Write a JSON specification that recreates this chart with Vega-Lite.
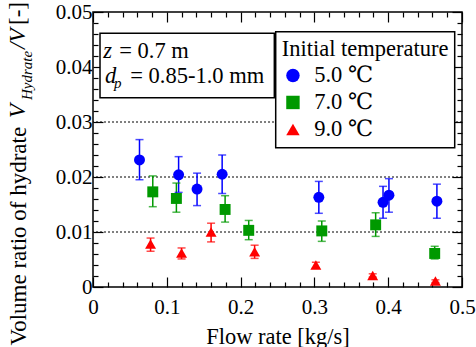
{
  "$schema": "https://vega.github.io/schema/vega-lite/v6.json",
  "width": 369,
  "height": 275,
  "autosize": {"type": "none"},
  "padding": {"left": 93, "top": 12, "right": 14, "bottom": 60},
  "background": "white",
  "datasets": {
    "pts": [
      {"series": "5.0 ℃", "x": 0.063, "y": 0.0231, "lo": 0.0195, "hi": 0.0268},
      {"series": "5.0 ℃", "x": 0.116, "y": 0.0204, "lo": 0.0172, "hi": 0.0237},
      {"series": "5.0 ℃", "x": 0.141, "y": 0.0178, "lo": 0.0148, "hi": 0.0207},
      {"series": "5.0 ℃", "x": 0.175, "y": 0.0205, "lo": 0.0170, "hi": 0.0240},
      {"series": "5.0 ℃", "x": 0.306, "y": 0.0163, "lo": 0.0134, "hi": 0.0192},
      {"series": "5.0 ℃", "x": 0.393, "y": 0.0154, "lo": 0.0125, "hi": 0.0183},
      {"series": "5.0 ℃", "x": 0.401, "y": 0.0167, "lo": 0.0136, "hi": 0.0197},
      {"series": "5.0 ℃", "x": 0.466, "y": 0.0156, "lo": 0.0125, "hi": 0.0187},
      {"series": "7.0 ℃", "x": 0.081, "y": 0.0173, "lo": 0.0146, "hi": 0.0202},
      {"series": "7.0 ℃", "x": 0.113, "y": 0.0161, "lo": 0.0136, "hi": 0.0189},
      {"series": "7.0 ℃", "x": 0.179, "y": 0.0141, "lo": 0.0118, "hi": 0.0166},
      {"series": "7.0 ℃", "x": 0.211, "y": 0.0103, "lo": 0.0086, "hi": 0.0121},
      {"series": "7.0 ℃", "x": 0.310, "y": 0.0102, "lo": 0.0083, "hi": 0.0120},
      {"series": "7.0 ℃", "x": 0.383, "y": 0.0113, "lo": 0.0092, "hi": 0.0135},
      {"series": "7.0 ℃", "x": 0.463, "y": 0.0061, "lo": 0.0051, "hi": 0.0074},
      {"series": "9.0 ℃", "x": 0.078, "y": 0.0078, "lo": 0.0065, "hi": 0.0089},
      {"series": "9.0 ℃", "x": 0.120, "y": 0.0062, "lo": 0.0051, "hi": 0.0071},
      {"series": "9.0 ℃", "x": 0.160, "y": 0.0100, "lo": 0.0082, "hi": 0.0116},
      {"series": "9.0 ℃", "x": 0.219, "y": 0.0064, "lo": 0.0052, "hi": 0.0076},
      {"series": "9.0 ℃", "x": 0.302, "y": 0.0040, "lo": 0.0035, "hi": 0.0045},
      {"series": "9.0 ℃", "x": 0.379, "y": 0.0021, "lo": 0.0018, "hi": 0.0024},
      {"series": "9.0 ℃", "x": 0.464, "y": 0.0011, "lo": 0.0008, "hi": 0.0013}
    ],
    "grid": [{"g": 0.01}, {"g": 0.02}, {"g": 0.03}],
    "one": [{}]
  },
  "resolve": {"axis": {"x": "independent", "y": "independent"}},
  "layer": [
    {
      "data": {"name": "grid"},
      "mark": {"type": "rule", "color": "black", "strokeWidth": 1, "strokeDash": [2, 2]},
      "encoding": {
        "y": {"field": "g", "type": "quantitative", "scale": {"domain": [0, 0.05], "nice": false, "zero": false}, "axis": null}
      }
    },
    {
      "data": {"name": "one"},
      "mark": {"type": "rect", "fill": "white", "stroke": "black", "strokeWidth": 1.5},
      "encoding": {
        "x": {"datum": 0.0095, "type": "quantitative", "axis": null},
        "x2": {"datum": 0.2457},
        "y": {"datum": 0.04613, "type": "quantitative", "axis": null},
        "y2": {"datum": 0.03442}
      }
    },
    {
      "data": {"name": "one"},
      "mark": {"type": "text", "text": "z", "font": "Liberation Serif", "fontStyle": "italic", "fontSize": 22.5, "align": "left", "baseline": "alphabetic", "color": "black"},
      "encoding": {
        "x": {"datum": 0.01396, "type": "quantitative", "axis": null},
        "y": {"datum": 0.04169, "type": "quantitative", "axis": null}
      }
    },
    {
      "data": {"name": "one"},
      "mark": {"type": "text", "text": "= 0.7 m", "font": "Liberation Serif", "fontSize": 22.5, "align": "left", "baseline": "alphabetic", "color": "black"},
      "encoding": {
        "x": {"datum": 0.03564, "type": "quantitative", "axis": null},
        "y": {"datum": 0.04169, "type": "quantitative", "axis": null}
      }
    },
    {
      "data": {"name": "one"},
      "mark": {"type": "text", "text": "d", "font": "Liberation Serif", "fontStyle": "italic", "fontSize": 22.5, "align": "left", "baseline": "alphabetic", "color": "black"},
      "encoding": {
        "x": {"datum": 0.01626, "type": "quantitative", "axis": null},
        "y": {"datum": 0.03704, "type": "quantitative", "axis": null}
      }
    },
    {
      "data": {"name": "one"},
      "mark": {"type": "text", "text": "p", "font": "Liberation Serif", "fontStyle": "italic", "fontSize": 15, "align": "left", "baseline": "alphabetic", "color": "black"},
      "encoding": {
        "x": {"datum": 0.0285, "type": "quantitative", "axis": null},
        "y": {"datum": 0.0361, "type": "quantitative", "axis": null}
      }
    },
    {
      "data": {"name": "one"},
      "mark": {"type": "text", "text": "= 0.85-1.0 mm", "font": "Liberation Serif", "fontSize": 22.5, "align": "left", "baseline": "alphabetic", "color": "black"},
      "encoding": {
        "x": {"datum": 0.0505, "type": "quantitative", "axis": null},
        "y": {"datum": 0.03704, "type": "quantitative", "axis": null}
      }
    },
    {
      "data": {"name": "one"},
      "mark": {"type": "text", "text": "V", "font": "Liberation Serif", "fontStyle": "italic", "fontSize": 23, "angle": 270, "align": "left", "baseline": "alphabetic", "color": "black"},
      "encoding": {
        "x": {"datum": -0.09214, "type": "quantitative", "axis": null},
        "y": {"datum": 0.030727, "type": "quantitative", "axis": null}
      }
    },
    {
      "data": {"name": "one"},
      "mark": {"type": "text", "text": "Hydrate", "font": "Liberation Serif", "fontStyle": "italic", "fontSize": 15, "angle": 270, "align": "left", "baseline": "alphabetic", "color": "black"},
      "encoding": {
        "x": {"datum": -0.08333, "type": "quantitative", "axis": null},
        "y": {"datum": 0.034, "type": "quantitative", "axis": null}
      }
    },
    {
      "data": {"name": "one"},
      "mark": {"type": "text", "text": "/V", "font": "Liberation Serif", "fontStyle": "italic", "fontSize": 23, "angle": 270, "align": "left", "baseline": "alphabetic", "color": "black"},
      "encoding": {
        "x": {"datum": -0.09214, "type": "quantitative", "axis": null},
        "y": {"datum": 0.043273, "type": "quantitative", "axis": null}
      }
    },
    {
      "data": {"name": "one"},
      "mark": {"type": "text", "text": "[-]", "font": "Liberation Serif", "fontSize": 23, "angle": 270, "align": "left", "baseline": "alphabetic", "color": "black"},
      "encoding": {
        "x": {"datum": -0.09214, "type": "quantitative", "axis": null},
        "y": {"datum": 0.047636, "type": "quantitative", "axis": null}
      }
    },
    {
      "data": {"name": "pts"},
      "mark": {"type": "rule", "strokeWidth": 1.5},
      "encoding": {
        "x": {"field": "x", "type": "quantitative", "scale": {"domain": [0, 0.5], "nice": false, "zero": false},
          "axis": {"orient": "bottom", "values": [0.02, 0.04, 0.06, 0.08, 0.12, 0.14, 0.16, 0.18, 0.22, 0.24, 0.26, 0.28, 0.32, 0.34, 0.36, 0.38, 0.42, 0.44, 0.46, 0.48], "tickSize": -5, "labels": false, "title": null}},
        "y": {"field": "lo", "type": "quantitative",
          "axis": {"orient": "left", "values": [0.002, 0.004, 0.006, 0.008, 0.012, 0.014, 0.016, 0.018, 0.022, 0.024, 0.026, 0.028, 0.032, 0.034, 0.036, 0.038, 0.042, 0.044, 0.046, 0.048], "tickSize": -5, "labels": false, "title": null}},
        "y2": {"field": "hi"},
        "color": {"field": "series", "type": "nominal"}
      }
    },
    {
      "data": {"name": "pts"},
      "mark": {"type": "tick", "orient": "horizontal", "size": 8, "thickness": 1.5},
      "encoding": {
        "x": {"field": "x", "type": "quantitative",
          "axis": {"orient": "top", "values": [0, 0.1, 0.2, 0.3, 0.4, 0.5], "tickSize": -10, "labels": false, "title": null}},
        "y": {"field": "lo", "type": "quantitative",
          "axis": {"orient": "right", "values": [0, 0.01, 0.02, 0.03, 0.04, 0.05], "tickSize": -10, "labels": false, "title": null}},
        "color": {"field": "series", "type": "nominal"}
      }
    },
    {
      "data": {"name": "pts"},
      "mark": {"type": "tick", "orient": "horizontal", "size": 8, "thickness": 1.5},
      "encoding": {
        "x": {"field": "x", "type": "quantitative",
          "axis": {"orient": "top", "values": [0.02, 0.04, 0.06, 0.08, 0.12, 0.14, 0.16, 0.18, 0.22, 0.24, 0.26, 0.28, 0.32, 0.34, 0.36, 0.38, 0.42, 0.44, 0.46, 0.48], "tickSize": -5, "labels": false, "title": null}},
        "y": {"field": "hi", "type": "quantitative",
          "axis": {"orient": "right", "values": [0.002, 0.004, 0.006, 0.008, 0.012, 0.014, 0.016, 0.018, 0.022, 0.024, 0.026, 0.028, 0.032, 0.034, 0.036, 0.038, 0.042, 0.044, 0.046, 0.048], "tickSize": -5, "labels": false, "title": null}},
        "color": {"field": "series", "type": "nominal"}
      }
    },
    {
      "data": {"name": "pts"},
      "mark": {"type": "point", "filled": true, "opacity": 1, "size": 120},
      "encoding": {
        "x": {"field": "x", "type": "quantitative",
          "axis": {"orient": "bottom", "values": [0, 0.1, 0.2, 0.3, 0.4, 0.5], "format": "~g", "labelFlush": false, "tickSize": -10, "labelPadding": 19, "title": "Flow rate [kg/s]", "titleY": 56, "titleBaseline": "alphabetic"}},
        "y": {"field": "y", "type": "quantitative",
          "axis": {"orient": "left", "values": [0, 0.01, 0.02, 0.03, 0.04, 0.05], "format": "~g", "labelFlush": false, "tickSize": -10, "labelPadding": 11, "title": "Volume ratio of hydrate", "titleFontSize": 23, "titleAngle": 270, "titleAlign": "left", "titleBaseline": "alphabetic", "titleX": -68, "titleY": 333}},
        "color": {"field": "series", "type": "nominal", "title": "Initial temperature",
          "scale": {"domain": ["5.0 ℃", "7.0 ℃", "9.0 ℃"], "range": ["#0000ff", "#009900", "#ff0000"]},
          "legend": {"orient": "none", "legendX": 182.7, "legendY": 19.7, "strokeColor": "black", "fillColor": "white", "padding": 6, "symbolOpacity": 1}},
        "shape": {"field": "series", "type": "nominal", "title": "Initial temperature",
          "scale": {"domain": ["5.0 ℃", "7.0 ℃", "9.0 ℃"], "range": ["circle", "square", "triangle-up"]},
          "legend": {"orient": "none", "legendX": 182.7, "legendY": 19.7, "strokeColor": "black", "fillColor": "white", "padding": 6, "symbolOpacity": 1}}
      }
    }
  ],
  "config": {
    "font": "Liberation Serif",
    "view": {"stroke": "black", "strokeWidth": 1.5},
    "axis": {"grid": false, "domain": false, "tickColor": "black", "tickWidth": 1.2, "labelFont": "Liberation Serif", "labelFontSize": 21, "labelColor": "black", "titleFont": "Liberation Serif", "titleFontWeight": "normal", "titleColor": "black", "titleFontSize": 22.5},
    "legend": {"titleFont": "Liberation Serif", "titleFontSize": 22.5, "titleFontWeight": "normal", "titleColor": "black", "labelFont": "Liberation Serif, DejaVu Serif", "labelFontSize": 22.5, "labelColor": "black", "symbolSize": 180, "symbolStrokeWidth": 0, "symbolOpacity": 1, "strokeWidth": 1.5, "rowPadding": 4, "titlePadding": 4, "labelOffset": 10}
  }
}
